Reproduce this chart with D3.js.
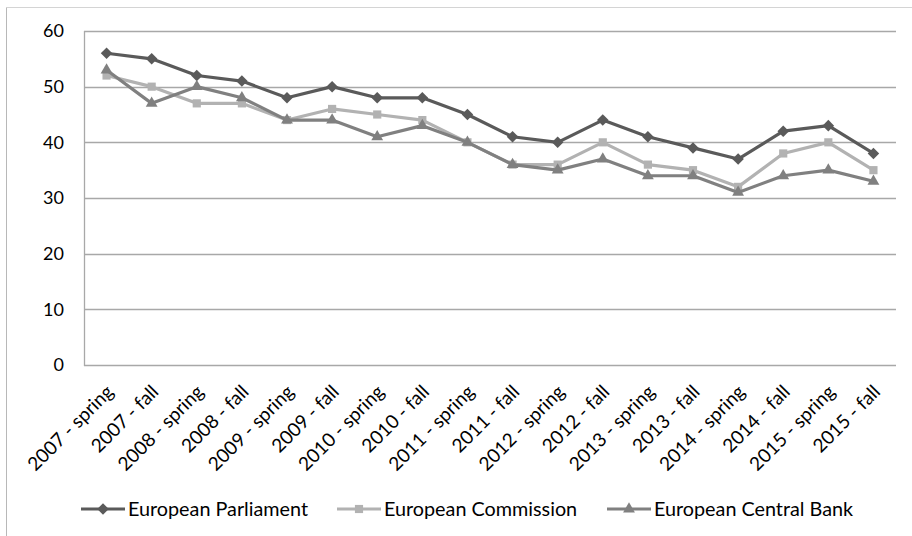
<!DOCTYPE html>
<html>
<head>
<meta charset="utf-8">
<script src="https://cdn.jsdelivr.net/npm/d3@7"></script>
<style>
  html, body { margin: 0; padding: 0; background: #fff; }
  svg { display: block; font-family: Lato, "Open Sans", sans-serif; }
</style>
</head>
<body>
<svg id="chart" width="912" height="536"></svg>
<script>
// Survey waves (spring / fall, 2007–2015)
const categories = [
  "2007 - spring", "2007 - fall", "2008 - spring", "2008 - fall",
  "2009 - spring", "2009 - fall", "2010 - spring", "2010 - fall",
  "2011 - spring", "2011 - fall", "2012 - spring", "2012 - fall",
  "2013 - spring", "2013 - fall", "2014 - spring", "2014 - fall",
  "2015 - spring", "2015 - fall"
];

// Trust levels per institution (%)
const parliament = [56, 55, 52, 51, 48, 50, 48, 48, 45, 41, 40, 44, 41, 39, 37, 42, 43, 38];
const commission = [52, 50, 47, 47, 44, 46, 45, 44, 40, 36, 36, 40, 36, 35, 32, 38, 40, 35];
const centralBank = [53, 47, 50, 48, 44, 44, 41, 43, 40, 36, 35, 37, 34, 34, 31, 34, 35, 33];

const yTicks = [0, 10, 20, 30, 40, 50, 60];
const seriesNames = ["European Parliament", "European Commission", "European Central Bank"];

const series = [
  { name: seriesNames[0], values: parliament, color: "#5a5a5a", symbol: d3.symbolDiamond2 },
  { name: seriesNames[1], values: commission, color: "#b2b2b2", symbol: d3.symbolSquare2 },
  { name: seriesNames[2], values: centralBank, color: "#808080", symbol: d3.symbolTriangle2 }
];

const svg = d3.select("#chart");
const plot = { left: 84, right: 896, top: 31, bottom: 365 };

// Outer chart frame (only top and left edges fall inside the view)
svg.append("line").attr("x1", 6.5).attr("x2", 912).attr("y1", 7.5).attr("y2", 7.5)
  .attr("stroke", "#d4d4d4").attr("stroke-width", 1);
svg.append("line").attr("x1", 6.5).attr("x2", 6.5).attr("y1", 7.5).attr("y2", 536)
  .attr("stroke", "#b8b8b8").attr("stroke-width", 1);

const x = d3.scaleBand().domain(categories).range([plot.left, plot.right]);
const y = d3.scaleLinear().domain([0, 60]).range([plot.bottom, plot.top]);

// Horizontal gridlines
svg.append("g").selectAll("line").data(yTicks).join("line")
  .attr("x1", plot.left).attr("x2", plot.right)
  .attr("y1", d => Math.round(y(d)) + 0.5).attr("y2", d => Math.round(y(d)) + 0.5)
  .attr("stroke", "#a8a8a8").attr("stroke-width", 1.3);

// Y axis line and labels
svg.append("line").attr("x1", plot.left + 0.5).attr("x2", plot.left + 0.5)
  .attr("y1", plot.top).attr("y2", plot.bottom + 1)
  .attr("stroke", "#a8a8a8").attr("stroke-width", 1.3);

const yAxis = d3.axisLeft(y).tickValues(yTicks).tickSize(0).tickPadding(20);
const gy = svg.append("g").attr("transform", `translate(${plot.left},0)`).call(yAxis);
gy.select(".domain").remove();
gy.selectAll("text").attr("font-size", 18).attr("fill", "#000")
  .attr("font-family", "Lato, sans-serif");

// X axis with rotated category labels
const xAxis = d3.axisBottom(x).tickSize(0).tickPadding(0);
const gx = svg.append("g").attr("transform", `translate(0,${plot.bottom})`).call(xAxis);
gx.select(".domain").remove();
gx.selectAll("text")
  .attr("font-size", 19).attr("fill", "#000").attr("font-family", "Lato, sans-serif")
  .attr("text-anchor", "end").attr("dy", null)
  .attr("transform", "translate(8,28) rotate(-45)");

// Lines and markers
const line = d3.line()
  .x((d, i) => x(categories[i]) + x.bandwidth() / 2)
  .y(d => y(d));

series.forEach(s => {
  svg.append("path").datum(s.values)
    .attr("d", line).attr("fill", "none")
    .attr("stroke", s.color).attr("stroke-width", 3.2)
    .attr("stroke-linejoin", "round");
  svg.append("g").selectAll("path").data(s.values).join("path")
    .attr("d", d3.symbol().type(s.symbol).size(s.symbol === d3.symbolTriangle2 ? 100 : 85))
    .attr("transform", (d, i) => `translate(${x(categories[i]) + x.bandwidth() / 2},${y(d)})`)
    .attr("fill", s.color);
});

// Legend
const legendX = [81, 337, 607];
const lg = svg.append("g").selectAll("g").data(series).join("g")
  .attr("transform", (d, i) => `translate(${legendX[i]},509)`);
lg.append("line").attr("x1", 0).attr("x2", 44).attr("y1", 0).attr("y2", 0)
  .attr("stroke", d => d.color).attr("stroke-width", 3.2);
lg.append("path")
  .attr("d", d => d3.symbol().type(d.symbol).size(d.symbol === d3.symbolTriangle2 ? 100 : 85)())
  .attr("transform", "translate(22,0)")
  .attr("fill", d => d.color);
lg.append("text").attr("x", 47).attr("y", 0).attr("dy", "0.35em")
  .attr("font-size", 19.8).attr("fill", "#000")
  .text(d => d.name);
</script>
</body>
</html>
